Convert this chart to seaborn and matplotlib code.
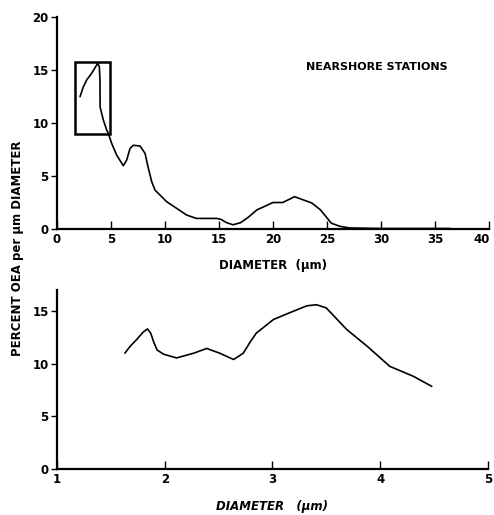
import matplotlib
matplotlib.use("Agg")
import matplotlib.pyplot as plt
import matplotlib.transforms as mtransforms
from matplotlib.patches import Rectangle
import seaborn as sns
import pandas as pd

# Top panel: full size range, nearshore stations
top_diam = [2.13, 2.44, 2.75, 3.21, 3.67, 3.77, 3.92, 3.98, 3.99, 4.29, 4.6,
            4.75, 5.06, 5.52, 6.14, 6.45, 6.76, 7.07, 7.69, 8.15, 8.46, 8.77,
            9.07, 9.54, 10.15, 11.08, 12.0, 12.9, 14.8, 15.2, 15.7, 16.3,
            17.0, 17.7, 18.5, 20.0, 20.9, 22.0, 23.6, 24.4, 25.4, 26.2,
            27.1, 30.0, 36.4]
top_pct = [12.48, 13.42, 14.06, 14.69, 15.47, 15.63, 15.3, 14.06, 11.5, 10.28,
           9.34, 9.03, 8.08, 6.98, 5.97, 6.5, 7.6, 7.9, 7.83, 7.14, 5.72, 4.46,
           3.68, 3.2, 2.58, 1.95, 1.32, 1.0, 1.0, 0.9, 0.6, 0.4,
           0.6, 1.1, 1.8, 2.5, 2.5, 3.05, 2.45, 1.8, 0.55, 0.25,
           0.1, 0.05, 0.05]

# Bottom panel: enlargement of the boxed 1-5 um region
bot_diam = [1.63, 1.68, 1.74, 1.80, 1.84, 1.87, 1.90, 1.93, 1.99, 2.11, 2.27,
            2.39, 2.51, 2.64, 2.73, 2.79, 2.85, 3.01, 3.16, 3.32, 3.41, 3.50,
            3.69, 3.88, 4.09, 4.31, 4.48]
bot_pct = [11.0, 11.66, 12.3, 13.0, 13.3, 12.9, 12.0, 11.3, 10.9, 10.55, 11.0,
           11.45, 11.0, 10.4, 11.0, 12.0, 12.9, 14.2, 14.84, 15.5, 15.6, 15.3,
           13.25, 11.66, 9.75, 8.8, 7.85]

top_xticks = [0, 5, 10, 15, 20, 25, 30, 35, 40]
top_yticks = [0, 5, 10, 15, 20]
bot_xticks = [1, 2, 3, 4, 5]
bot_yticks = [0, 5, 10, 15]

# box marking the enlarged region (x0, y0, width, height)
box = (1.7, 9.0, 3.2, 6.8)

sns.set_style("ticks")
plt.rcParams['font.family'] = ['DejaVu Sans']
plt.rcParams['font.weight'] = 'bold'
for key in ("text.color", "axes.labelcolor", "xtick.color", "ytick.color",
            "axes.edgecolor"):
    plt.rcParams[key] = "black"

fig = plt.figure(figsize=(4.94, 5.15), dpi=100)
ax1 = fig.add_axes([0.1154, 0.5553, 0.8745, 0.4117])
ax2 = fig.add_axes([0.1154, 0.0893, 0.872, 0.3476])

df_top = pd.DataFrame({"diam": top_diam, "pct": top_pct})
df_bot = pd.DataFrame({"diam": bot_diam, "pct": bot_pct})

sns.lineplot(data=df_top, x="diam", y="pct", ax=ax1, color="black",
             linewidth=1.2, sort=False)
sns.lineplot(data=df_bot, x="diam", y="pct", ax=ax2, color="black",
             linewidth=1.2, sort=False)

ax1.add_patch(Rectangle((box[0], box[1]), box[2], box[3], fill=False,
                        edgecolor="black", linewidth=1.8))

ax1.set_xlim(0, 40)
ax1.set_ylim(0, 20)
ax1.set_xticks(top_xticks)
ax1.set_yticks(top_yticks)
ax2.set_xlim(1, 5)
ax2.set_ylim(0, 17)
ax2.set_xticks(bot_xticks)
ax2.set_yticks(bot_yticks)

for ax in (ax1, ax2):
    sns.despine(ax=ax)
    for s in ("left", "bottom"):
        ax.spines[s].set_linewidth(1.6)
    ax.tick_params(axis="x", direction="in", length=6, width=1.0,
                   labelsize=8.5, pad=3)
    ax.tick_params(axis="y", direction="out", length=4, width=1.0,
                   labelsize=8.5, pad=2)
    ax.set_ylabel("")
    for lab in ax.get_xticklabels() + ax.get_yticklabels():
        lab.set_fontweight("bold")

# keep the "40" label inside the figure edge
last = ax1.get_xticklabels()[-1]
last.set_transform(last.get_transform() +
                   mtransforms.ScaledTranslation(-5 / 72, 0, fig.dpi_scale_trans))

ax1.set_xlabel("DIAMETER  (\u03bcm)", fontsize=8.5, fontweight="bold", labelpad=9)
ax2.set_xlabel("DIAMETER   (\u03bcm)", fontsize=8.5, fontweight="bold",
               labelpad=10, style="italic")

ax1.text(29.6, 15.3, "NEARSHORE STATIONS", ha="center", va="center",
         fontsize=8, fontweight="bold")

fig.text(0.036, 0.518, "PERCENT OEA per \u03bcm DIAMETER", rotation=90,
         ha="center", va="center", fontsize=8.5, fontweight="bold")

fig.savefig("out.png", dpi=100)
